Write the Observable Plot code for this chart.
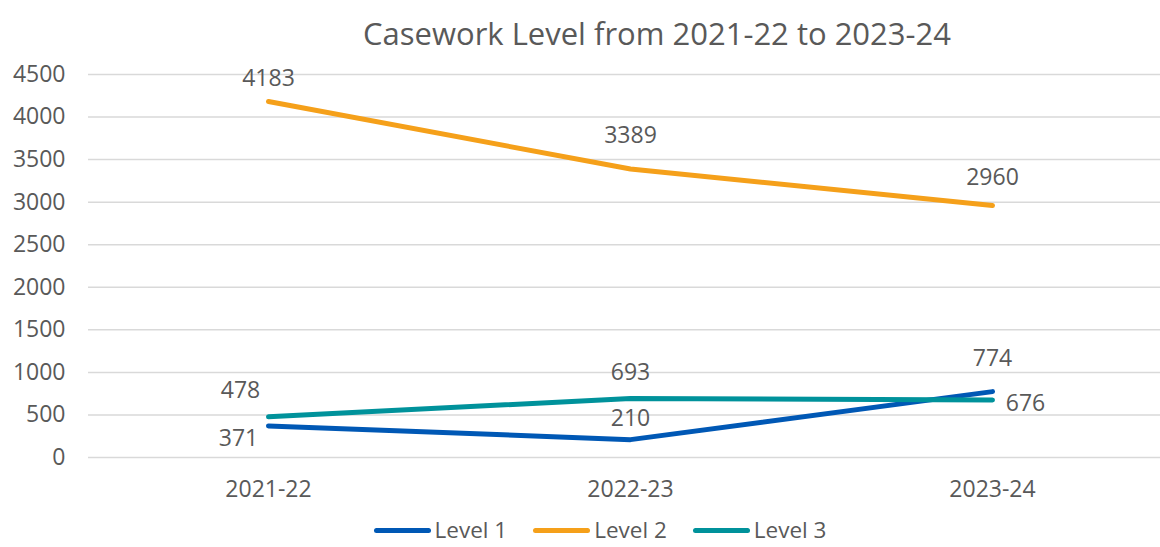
<!DOCTYPE html>
<html>
<head>
<meta charset="utf-8">
<script src="https://cdn.jsdelivr.net/npm/d3@7"></script>
<script src="https://cdn.jsdelivr.net/npm/@observablehq/plot@0.6"></script>
<style>
  body { margin: 0; background: #fff; font-family: "Open Sans", sans-serif; color: #595959; }
  #title { height: 56px; box-sizing: border-box; padding-top: 12px; padding-left: 154px; line-height: 42px; font-size: 31px; text-align: center; white-space: nowrap; }
  #chart svg { display: block; }
  #legend { display: flex; justify-content: center; align-items: center; gap: 26px; margin-top: 2px; height: 24px; line-height: 24px; padding-left: 40px; font-size: 22.5px; }
  #legend .item { display: flex; align-items: center; gap: 4px; }
  #legend .swatch { width: 57px; height: 5px; border-radius: 3px; }
</style>
</head>
<body>
<div id="title">Casework Level from 2021-22 to 2023-24</div>
<div id="chart"></div>
<div id="legend"></div>
<script>
// Casework counts per level and year
const years = ["2021-22", "2022-23", "2023-24"];
const series = ["Level 1", "Level 2", "Level 3"];
const level1 = [371, 210, 774];
const level2 = [4183, 3389, 2960];
const level3 = [478, 693, 676];
const yTicks = [0, 500, 1000, 1500, 2000, 2500, 3000, 3500, 4000, 4500];
const colors = ["#0058b5", "#f5a01a", "#00929b"];

// Long-format table built from the arrays above
const values = [level1, level2, level3];
const rows = series.flatMap((s, i) => years.map((y, j) => ({series: s, year: y, value: values[i][j]})));

// Where each value label sits relative to its point
const labelPlacement = {
  "Level 1|2021-22": [-30, 13],
  "Level 1|2022-23": [0, -21],
  "Level 1|2023-24": [0, -33],
  "Level 2|2021-22": [0, -23],
  "Level 2|2022-23": [0, -33],
  "Level 2|2023-24": [0, -28],
  "Level 3|2021-22": [-28, -26],
  "Level 3|2022-23": [0, -26],
  "Level 3|2023-24": [33, 4]
};

const labelMarks = rows.map(d => {
  const [dx, dy] = labelPlacement[d.series + "|" + d.year];
  return Plot.text([d], {x: "year", y: "value", text: d => String(d.value), dx, dy, fill: "#595959", fontSize: 23});
});

const chart = Plot.plot({
  width: 1160,
  height: 460,
  marginLeft: 88,
  marginRight: 0,
  marginTop: 18,
  marginBottom: 59,
  style: {fontFamily: "'Open Sans', sans-serif", fontSize: "23px", color: "#595959", background: "#fff"},
  x: {type: "point", domain: years, range: [268, 992], padding: 0, label: null},
  y: {domain: [0, 4500], label: null},
  color: {domain: series, range: colors},
  marks: [
    Plot.ruleY(yTicks, {stroke: "#d9d9d9", strokeWidth: 1.5}),
    Plot.axisY({ticks: yTicks, tickFormat: d => String(d), tickSize: 0, tickPadding: 23, label: null, fontSize: 23}),
    Plot.axisX({tickSize: 0, tickPadding: 23, label: null, fontSize: 23}),
    Plot.line(rows, {x: "year", y: "value", z: "series", stroke: "series", strokeWidth: 5, strokeLinecap: "round", strokeLinejoin: "round"}),
    ...labelMarks
  ]
});
document.getElementById("chart").appendChild(chart);

// Legend below the chart
const legend = document.getElementById("legend");
series.forEach((s, i) => {
  const item = document.createElement("div");
  item.className = "item";
  const sw = document.createElement("span");
  sw.className = "swatch";
  sw.style.background = colors[i];
  const label = document.createElement("span");
  label.textContent = s;
  item.appendChild(sw);
  item.appendChild(label);
  legend.appendChild(item);
});
</script>
</body>
</html>
